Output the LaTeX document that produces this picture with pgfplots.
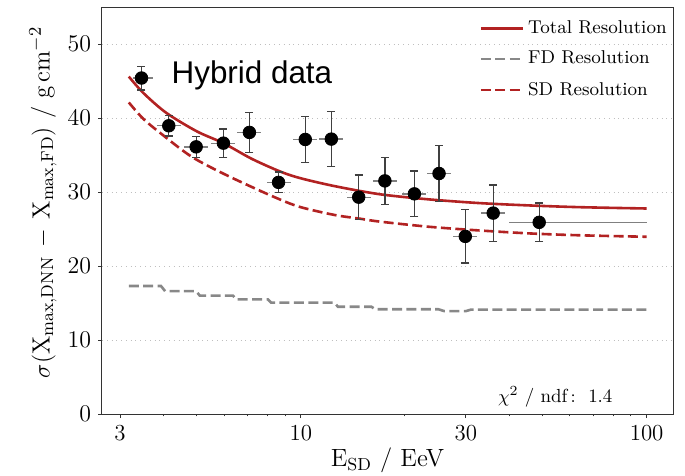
\documentclass[border=0pt]{standalone}
\usepackage{pgfplots}
\pgfplotsset{compat=1.18}
\usepackage{pgfplotstable}
\usepackage{fontspec}
\newfontfamily\arialfont{Liberation Sans}
\definecolor{tred}{HTML}{B22222}
\definecolor{fdgray}{HTML}{888888}

\pgfplotstableread{
E     S      ey   exm   exp
3.46  45.4   1.6  0.18  0.28
4.15  38.95  1.4  0.32  0.34
4.98  36.1   1.4  0.38  0.41
5.97  36.6   1.9  0.46  0.50
7.10  38.05  2.7  0.55  0.59
8.62  31.3   1.4  0.66  0.72
10.3  37.1   3.1  0.79  0.85
12.25 37.15  3.7  0.94  1.02
14.7  29.3   3.0  1.13  1.22
17.5  31.5   3.2  1.35  1.45
21.3  29.75  3.1  1.64  1.77
25.1  32.5   3.8  1.93  2.08
29.9  24.0   3.6  2.30  2.48
36.0  27.15  3.8  2.77  2.99
48.9  25.9   2.6  8.8   51.1
}\hybrid

\pgfplotstableread{
E     S
3.18  45.6
3.5   43.4
4.08  40.7
5.0   38.2
5.97  36.6
7.2   34.5
8.68  32.8
9.91  31.9
12.5  30.8
16.9  29.7
23.5  29.0
32.9  28.5
46    28.18
64.1  27.95
100   27.77
}\total

\pgfplotstableread{
E     S
3.18  42.1
3.5   39.9
3.94  37.9
4.82  34.8
6.08  32.3
8.30  29.4
9.91  28.0
12.5  26.9
14.8  26.4
16.9  26.0
23.5  25.3
32.9  24.8
46    24.4
64.1  24.15
100   23.95
}\sdres

\pgfplotstableread{
E     S
3.18  17.3
3.94  17.3
4.05  16.6
4.98  16.6
5.1   16.0
6.36  16.0
6.5   15.5
8.03  15.5
8.2   15.05
12.5  15.05
12.8  14.5
16.0  14.5
16.4  14.15
25    14.15
26    13.9
30    13.9
31    14.1
100   14.1
}\fdres

\begin{document}
\begin{tikzpicture}[x=1bp,y=1bp]
\useasboundingbox (-51,-31) rectangle (291.5,207);
\begin{axis}[
  at={(0,0)}, anchor=south west,
  scale only axis, width=285.5bp, height=203.5bp,
  xmode=log, xmin=2.66, xmax=119.2, ymin=0, ymax=55,
  xtick={3,10,30,100}, xticklabels={3,10,30,100},
  minor xtick={4,5,6,7,8,9,20,40,50,60,70,80,90},
  ytick={0,10,20,30,40,50},
  tick pos=left, tick align=outside,
  major tick length=2bp, minor tick length=1.2bp,
  ymajorgrids, grid style={dotted, black!25, line width=0.4bp},
  axis line style={line width=0.5bp, black!80},
  tick style={black!80, line width=0.5bp},
  ticklabel style={font=\fontsize{11.5}{13}\selectfont},
  xlabel={E$_{\mathrm{SD}}$ / EeV},
  ylabel={$\sigma(\mathrm{X_{max,DNN}}\,-\,\mathrm{X_{max,FD}})$ / g$\,$cm$^{-2}$},
  label style={font=\fontsize{12.5}{14}\selectfont},
  xlabel style={at={(axis description cs:0.5,-0.128)}, anchor=base},
  ylabel style={at={(axis description cs:-0.1033,0.52)}, anchor=center},
  legend style={at={(axis description cs:1,0.983)}, anchor=north east, draw=none, fill=none,
    font=\fontsize{9.3}{11}\selectfont, row sep=3.5bp, inner sep=1bp},
  legend cell align=left,
  legend image code/.code={\draw[#1] (0bp,0bp) -- (21bp,0bp);},
]
\addlegendimage{tred, line width=1.3bp}
\addlegendentry{Total Resolution}
\addlegendimage{fdgray, line width=1.3bp, dash pattern=on 5bp off 2.2bp}
\addlegendentry{FD Resolution}
\addlegendimage{tred, line width=1.3bp, dash pattern=on 5bp off 2.2bp}
\addlegendentry{SD Resolution}

\addplot[forget plot, fdgray, line width=1.3bp, dash pattern=on 5bp off 2.2bp] table[x=E,y=S] {\fdres};
\addplot[forget plot, tred, line width=1.3bp, dash pattern=on 5bp off 2.2bp, smooth] table[x=E,y=S] {\sdres};
\addplot[forget plot, tred, line width=1.3bp, smooth] table[x=E,y=S] {\total};

\addplot[forget plot, draw=none, mark=none,
  error bars/.cd, x dir=both, x explicit, error mark=none,
  error bar style={draw=black!50, line width=0.65bp, solid}]
  table[x=E, y=S, x error plus=exp, x error minus=exm] {\hybrid};
\addplot[forget plot, only marks, mark=*, mark size=3.15bp, black,
  error bars/.cd, y dir=both, y explicit,
  error bar style={draw=black!75, line width=0.65bp, solid},
  error mark options={draw=black!75, line width=0.65bp, mark size=2bp, rotate=90}]
  table[x=E, y=S, y error=ey] {\hybrid};

\node[anchor=base west, inner sep=0, font=\arialfont\fontsize{15.75}{17}\selectfont] at (axis cs:4.22,44.6) {Hybrid data};
\node[anchor=base west, inner sep=0, font=\fontsize{9.5}{11}\selectfont] at (axis cs:37.1,1.5) {$\chi^2$ / ndf$\,:$\ \ 1.4};
\end{axis}
\end{tikzpicture}
\end{document}
